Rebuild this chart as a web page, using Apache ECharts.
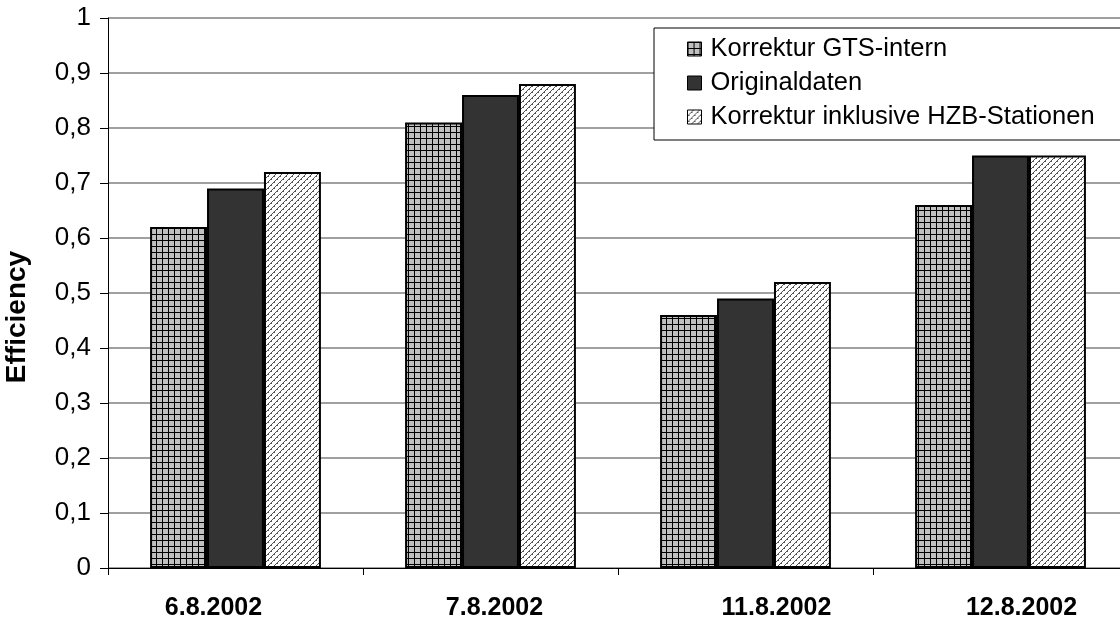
<!DOCTYPE html>
<html>
<head>
<meta charset="utf-8">
<script src="https://cdn.jsdelivr.net/npm/echarts@6/dist/echarts.min.js"></script>
<style>
  html, body { margin: 0; padding: 0; background: #fff; }
  #chart { width: 1120px; height: 621px; }
</style>
</head>
<body>
<div id="chart"></div>
<script>
// Efficiency per event day for the three data variants
const categories = ['6.8.2002', '7.8.2002', '11.8.2002', '12.8.2002'];
const seriesNames = ['Korrektur GTS-intern', 'Originaldaten', 'Korrektur inklusive HZB-Stationen'];
const gtsIntern = [0.62, 0.81, 0.46, 0.66];
const originaldaten = [0.69, 0.86, 0.49, 0.75];
const inklHZB = [0.72, 0.88, 0.52, 0.75];

const FONT = 'Liberation Sans, Arial, sans-serif';

// Fill patterns for the bars
function gridPattern() {
  const c = document.createElement('canvas');
  c.width = 6; c.height = 6;
  const g = c.getContext('2d');
  g.fillStyle = '#c0c0c0';
  g.fillRect(0, 0, 6, 6);
  g.fillStyle = '#000';
  g.fillRect(0, 0, 6, 1);
  g.fillRect(0, 0, 1, 6);
  return { image: c, repeat: 'repeat' };
}
function hatchPattern() {
  const c = document.createElement('canvas');
  c.width = 6; c.height = 6;
  const g = c.getContext('2d');
  g.fillStyle = '#fff';
  g.fillRect(0, 0, 6, 6);
  g.fillStyle = '#555';
  for (let i = 0; i < 6; i++) {
    g.fillRect(i, 5 - i, 1, 1);
  }
  g.fillRect(0, 5, 2, 1);
  g.fillRect(3, 2, 2, 1);
  return { image: c, repeat: 'repeat' };
}

// Horizontal nudges of the category labels
const labelShift = [-22, 4, 31, 21];
const rich = {};
labelShift.forEach((s, i) => {
  rich['s' + i] = {
    fontFamily: FONT, fontSize: 25, fontWeight: 'bold', color: '#000',
    padding: s < 0 ? [0, -2 * s, 0, 0] : [0, 0, 0, 2 * s]
  };
});

const barStyle = (color) => ({ color: color, borderColor: '#000', borderWidth: 2 });

const chart = echarts.init(document.getElementById('chart'), null, { renderer: 'canvas' });
chart.setOption({
  animation: false,
  backgroundColor: '#fff',
  grid: { left: 108, top: 18, width: 1020, height: 550, containLabel: false, outerBoundsMode: 'none' },
  legend: {
    orient: 'vertical',
    left: 654, top: 28,
    data: seriesNames,
    icon: 'rect',
    itemWidth: 14, itemHeight: 14, itemGap: 4,
    padding: [6, 30, 8, 33],
    backgroundColor: '#fff',
    borderColor: '#000', borderWidth: 1,
    itemStyle: { borderWidth: 1, borderColor: '#000' },
    textStyle: { fontFamily: FONT, fontSize: 25.5, color: '#000', lineHeight: 30, padding: [0, 0, 0, 4] }
  },
  xAxis: {
    type: 'category',
    data: categories,
    axisLine: { lineStyle: { color: '#000', width: 1 } },
    axisTick: { show: true, length: 7, lineStyle: { color: '#000' } },
    axisLabel: {
      margin: 28,
      formatter: (v, i) => '{s' + i + '|' + v + '}',
      rich: rich
    }
  },
  yAxis: {
    type: 'value',
    min: 0, max: 1, interval: 0.1,
    name: 'Efficiency',
    nameLocation: 'middle',
    nameGap: 77,
    nameTextStyle: { fontFamily: FONT, fontSize: 28, fontWeight: 'bold', color: '#000', padding: [0, 48, 0, 0] },
    axisLine: { show: true, lineStyle: { color: '#000', width: 1 } },
    axisTick: { show: true, length: 8, lineStyle: { color: '#000' } },
    axisLabel: {
      margin: 17,
      fontFamily: FONT, fontSize: 26, color: '#000',
      formatter: (v) => String(Math.round(v * 10) / 10).replace('.', ',')
    },
    splitLine: { lineStyle: { color: '#808080', width: 1.5 } }
  },
  series: [
    { name: seriesNames[0], type: 'bar', data: gtsIntern, barGap: '0%', barCategoryGap: '33%', itemStyle: barStyle(gridPattern()) },
    { name: seriesNames[1], type: 'bar', data: originaldaten, barGap: '0%', barCategoryGap: '33%', itemStyle: barStyle('#333333') },
    { name: seriesNames[2], type: 'bar', data: inklHZB, barGap: '0%', barCategoryGap: '33%', itemStyle: barStyle(hatchPattern()) }
  ]
});
</script>
</body>
</html>
